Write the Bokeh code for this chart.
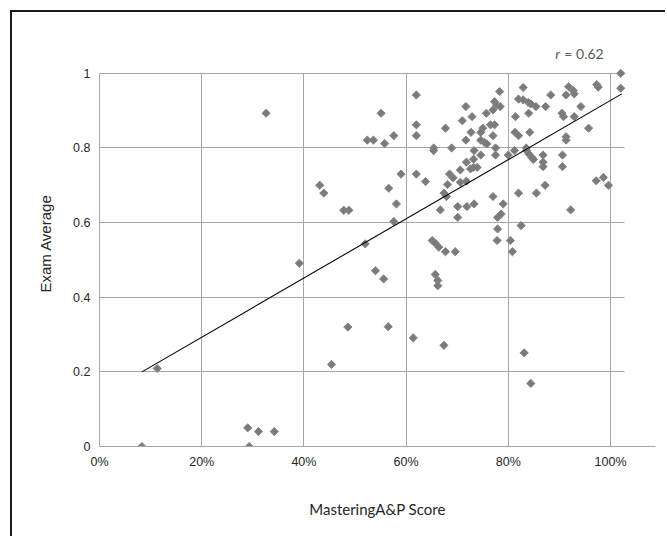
from bokeh.plotting import figure
from bokeh.models import FixedTicker, Label, ColumnDataSource
from bokeh.embed import file_html
from bokeh.resources import INLINE
import math

# MasteringA&P score (fraction) vs exam average
mastering = [0.083, 0.113, 0.290, 0.293, 0.311, 0.342, 0.326, 0.391, 0.431, 0.439, 0.454, 0.478, 0.488, 0.486,
             0.565, 0.614, 0.674, 0.831, 0.844,
             1.020, 1.020, 0.973, 0.976, 0.918, 0.927, 0.929, 0.913, 0.883, 0.829, 0.783, 0.620,
             0.820, 0.829, 0.839, 0.844, 0.854, 0.873,
             0.773, 0.777, 0.784, 0.770, 0.757, 0.717, 0.840, 0.814, 0.905, 0.908, 0.942, 0.929, 0.551,
             0.620, 0.620, 0.677, 0.710, 0.729, 0.765, 0.773, 0.750, 0.746, 0.727, 0.717, 0.746, 0.753, 0.758,
             0.770, 0.775, 0.733, 0.746, 0.775, 0.800, 0.812, 0.813, 0.820, 0.842,
             0.835, 0.836, 0.840, 0.846, 0.849, 0.868, 0.868, 0.868, 0.906, 0.906, 0.913, 0.913, 0.957,
             0.524, 0.536, 0.558, 0.576, 0.654, 0.654, 0.689, 0.590, 0.620, 0.638, 0.566, 0.581, 0.576,
             0.520, 0.540, 0.556,
             0.651, 0.657, 0.664, 0.677, 0.696, 0.657, 0.662, 0.662, 0.667, 0.701, 0.719, 0.733, 0.701,
             0.679, 0.674, 0.681, 0.685, 0.692, 0.706, 0.706, 0.718, 0.718, 0.726, 0.732, 0.739, 0.732,
             0.770, 0.790, 0.779, 0.786, 0.779, 0.778, 0.804, 0.808, 0.825, 0.820, 0.855, 0.872, 0.922,
             0.972, 0.986, 0.996]
exam_avg = [0.000, 0.209, 0.050, 0.000, 0.040, 0.040, 0.893, 0.491, 0.700, 0.679, 0.220, 0.633, 0.633, 0.320,
            0.321, 0.291, 0.271, 0.251, 0.169,
            1.000, 0.960, 0.970, 0.963, 0.964, 0.954, 0.945, 0.942, 0.942, 0.962, 0.951, 0.942,
            0.931, 0.929, 0.922, 0.918, 0.911, 0.911,
            0.924, 0.915, 0.911, 0.902, 0.893, 0.911, 0.893, 0.884, 0.893, 0.884, 0.911, 0.884, 0.893,
            0.862, 0.833, 0.853, 0.873, 0.884, 0.862, 0.862, 0.853, 0.842, 0.842, 0.821, 0.821, 0.815, 0.811,
            0.833, 0.800, 0.793, 0.781, 0.781, 0.781, 0.793, 0.842, 0.833, 0.842,
            0.800, 0.793, 0.784, 0.775, 0.769, 0.781, 0.762, 0.750, 0.781, 0.750, 0.830, 0.821, 0.853,
            0.821, 0.821, 0.812, 0.833, 0.800, 0.793, 0.800, 0.730, 0.730, 0.710, 0.692, 0.650, 0.603,
            0.543, 0.471, 0.449,
            0.552, 0.545, 0.534, 0.522, 0.522, 0.461, 0.445, 0.431, 0.634, 0.643, 0.643, 0.650, 0.614,
            0.670, 0.679, 0.702, 0.730, 0.720, 0.708, 0.741, 0.711, 0.762, 0.744, 0.748, 0.748, 0.770,
            0.670, 0.650, 0.614, 0.623, 0.583, 0.552, 0.552, 0.522, 0.592, 0.679, 0.679, 0.700, 0.634,
            0.712, 0.721, 0.700]

trend_x = [0.083, 1.022]
trend_y = [0.200, 0.945]

x_ticks = [0, 0.2, 0.4, 0.6, 0.8, 1.0]
x_tick_labels = ["0%", "20%", "40%", "60%", "80%", "100%"]
y_ticks = [0, 0.2, 0.4, 0.6, 0.8, 1.0]
y_tick_labels = ["0", "0.2", "0.4", "0.6", "0.8", "1"]

p = figure(width=655, height=526, output_backend="svg", toolbar_location=None,
           x_range=(0, 1.088), y_range=(0, 1.088),
           min_border_left=87, min_border_right=12, min_border_top=28, min_border_bottom=92)
p.margin = (10, 0, 0, 10)
p.styles = {"border-left": "2px solid #1a1a1a", "border-top": "2px solid #1a1a1a"}
p.outline_line_color = None
p.background_fill_color = "white"
p.border_fill_color = "white"

src = ColumnDataSource(dict(x=mastering, y=exam_avg))
p.scatter("x", "y", source=src, marker="square", angle=math.pi / 4, size=5.8,
          fill_color="#7b7b7b", line_color="#858585", line_width=1.0)
p.line(trend_x, trend_y, line_color="black", line_width=1.1)

for ax, ticks, labels in ((p.xaxis[0], x_ticks, x_tick_labels), (p.yaxis[0], y_ticks, y_tick_labels)):
    ax.ticker = FixedTicker(ticks=ticks)
    ax.major_label_overrides = {t: l for t, l in zip(ticks, labels)}
    ax.major_tick_line_color = None
    ax.minor_tick_line_color = None
    ax.axis_line_color = "#a6a6a6"
    ax.major_label_text_font = "Liberation Sans"
    ax.major_label_text_font_size = "12.5px"
    ax.major_label_text_color = "#262626"
    ax.major_tick_out = 0
    ax.major_tick_in = 0

p.yaxis.bounds = (0, 1.0)
p.xaxis.major_label_standoff = 8
p.yaxis.major_label_standoff = 9

p.xaxis.axis_label = "MasteringA&P Score"
p.xaxis.axis_label_text_font = "Lato"
p.xaxis.axis_label_text_font_style = "normal"
p.xaxis.axis_label_text_font_size = "15px"
p.xaxis.axis_label_text_color = "#262626"
p.xaxis.axis_label_standoff = 28

p.yaxis.axis_label = "Exam Average"
p.yaxis.axis_label_text_font = "Liberation Sans"
p.yaxis.axis_label_text_font_style = "normal"
p.yaxis.axis_label_text_font_size = "15px"
p.yaxis.axis_label_text_color = "#262626"
p.yaxis.axis_label_standoff = 16

p.xgrid.ticker = FixedTicker(ticks=x_ticks)
p.ygrid.ticker = FixedTicker(ticks=y_ticks)
p.xgrid.cross_bounds = (0, 1.0)
p.ygrid.cross_bounds = (0, 1.028)
p.grid.grid_line_color = "#a6a6a6"
p.grid.grid_line_width = 1

p.add_layout(Label(x=0.892, y=1.054, text="r", text_font="Lato", text_font_style="italic",
                   text_font_size="14px", text_color="#595959", text_baseline="alphabetic"))
p.add_layout(Label(x=0.892, y=1.054, x_offset=9, text="= 0.62", text_font="Lato",
                   text_font_size="14px", text_color="#595959", text_baseline="alphabetic"))

open("out.html", "w").write(file_html(p, INLINE))
